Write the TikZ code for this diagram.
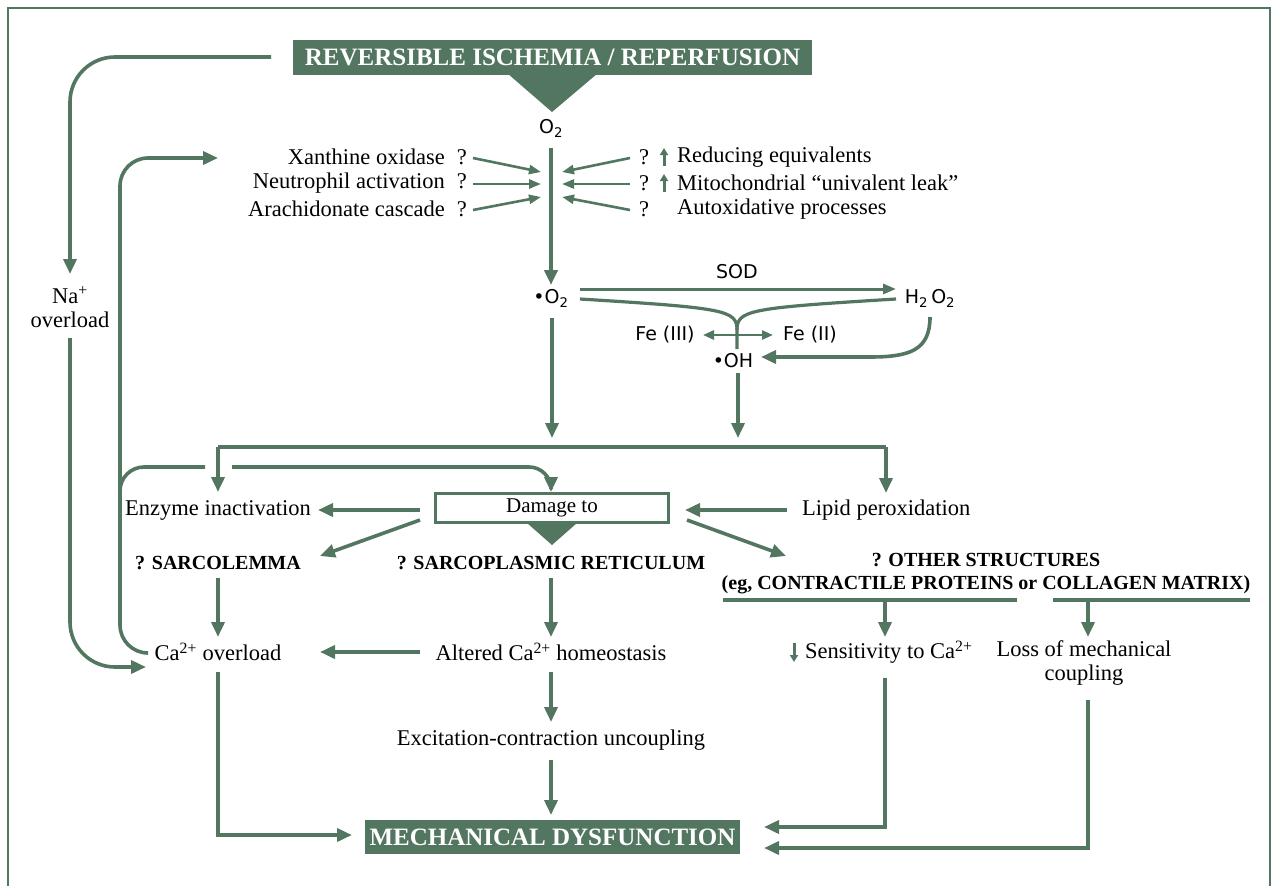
\documentclass[tikz,border=0pt]{standalone}
\usepackage{fontspec}
\setmainfont{Liberation Serif}
\newfontfamily\chemf{DejaVu Sans}
\usetikzlibrary{arrows.meta}
\definecolor{gr}{RGB}{82,118,96}
\begin{document}
\begin{tikzpicture}[x=1pt,y=-1pt,
  every node/.style={inner sep=0pt, font=\fontsize{22.5}{24}\selectfont},
  tip/.style={-{Triangle[length=15pt,width=13pt]}},
  conn/.style={draw=gr, line width=3.6pt, tip},
  plain/.style={draw=gr, line width=3.6pt},
  thinar/.style={draw=gr, line width=2.6pt, -{Triangle[length=12pt,width=9pt]}},
  bold/.style={font=\fontsize{20}{23}\selectfont\bfseries},
  chem/.style={font=\fontsize{19}{22}\selectfont\chemf},
  banner/.style={fill=gr, text=white, font=\fontsize{25}{28}\selectfont\bfseries}
]
\useasboundingbox (0,0) rectangle (1278,886);
\draw[gr, line width=2pt] (8,886) -- (8,8) -- (1270,8) -- (1270,886);

% title
\node[banner, minimum width=519pt, minimum height=35pt] (title) at (552.5,57.5) {REVERSIBLE ISCHEMIA / REPERFUSION};
\fill[gr] (title.south) ++(-43,0) -- ++(86,0) -- (552,112) -- cycle;
\node[chem] (o2) at (551,128) {O\textsubscript{2}};

% sources
\node[anchor=east] (xo) at (467,157) {Xanthine oxidase\hspace{12pt}?};
\node[anchor=east] (na) at (467,183) {Neutrophil activation\hspace{12pt}?};
\node[anchor=east] (ac) at (467,209) {Arachidonate cascade\hspace{12pt}?};
\node (q1) at (644,157) {?};
\node (q2) at (644,183) {?};
\node (q3) at (644,209) {?};
\node[anchor=west] (re) at (677,157) {Reducing equivalents};
\node[anchor=west] (ml) at (677,183) {Mitochondrial “univalent leak”};
\node[anchor=west] (ap) at (677,209) {Autoxidative processes};
\draw[gr, line width=3pt, -{Triangle[length=7pt,width=8pt]}] (664,166) -- (664,148);
\draw[gr, line width=3pt, -{Triangle[length=7pt,width=8pt]}] (664,192) -- (664,174);

\coordinate (t1) at (541,172); \coordinate (t2) at (541,184); \coordinate (t3) at (541,197);
\coordinate (u1) at (562,172); \coordinate (u2) at (562,184); \coordinate (u3) at (562,197);
\draw[thinar] (473,158) -- (t1);
\draw[thinar] (473,184) -- (t2);
\draw[thinar] (473,210) -- (t3);
\draw[thinar] (630,158) -- (u1);
\draw[thinar] (630,184) -- (u2);
\draw[thinar] (630,210) -- (u3);

% superoxide chemistry
\node[chem] (so) at (551,298) {•O\textsubscript{2}};
\node[chem] (sod) at (737,272) {SOD};
\node[chem] (hp) at (930,298) {H\textsubscript{2}\,O\textsubscript{2}};
\node[chem] (fe3) at (665,335) {Fe (III)};
\node[chem] (fe2) at (810,335) {Fe (II)};
\node[chem] (oh) at (733,361) {•OH};
\coordinate (o2b) at (551,148);
\coordinate (sot) at (551,285);
\draw[conn, line width=4pt] (o2b) -- (sot);
\coordinate (sod1) at (580,289); \coordinate (sod2) at (896,289);
\draw[gr, line width=3pt, -{Triangle[length=13pt,width=10pt]}] (sod1) -- (sod2);
\coordinate (join) at (737,330);
\coordinate (jb) at (737,349);
\draw[gr, line width=3.2pt] (580,299) .. controls (725,308) and (737,310) .. (join);
\draw[gr, line width=3.2pt] (896,299) .. controls (749,308) and (737,310) .. (join) -- (jb);
\coordinate (fa) at (703,335); \coordinate (fb) at (773,335);
\draw[gr, line width=2.6pt, {Triangle[length=11pt,width=9pt]}-{Triangle[length=11pt,width=9pt]}] (fa) -- (fb);
\coordinate (hpb) at (930,317); \coordinate (ohe) at (761,357);
\draw[conn] (hpb) .. controls (930,350) and (910,357) .. (870,357) -- (ohe);
\coordinate (sob) at (552,318); \coordinate (ohb) at (738,373);
\draw[conn] (sob) -- (552,438);
\draw[conn] (ohb) -- (738,438);

% distribution
\node (ei) at (218,510) {Enzyme inactivation};
\node[draw=gr, line width=2.5pt, fill=white, minimum width=233pt, minimum height=29pt, font=\fontsize{21}{22}\selectfont] (dmg) at (552,508) {Damage to};
\fill[gr] (527,523) -- (577,523) -- (552,545) -- cycle;
\node[anchor=west] (lp) at (802,510) {Lipid peroxidation};
\draw[plain] (218,447) -- (886,447);
\draw[conn] (218,447) -- (218,492);
\draw[conn] (886,447) -- (886,493);

\node[bold] (sl) at (218,563) {? SARCOLEMMA};
\node[bold] (sr) at (551,563) {? SARCOPLASMIC RETICULUM};
\node[bold, align=center] (os) at (986,574) {? OTHER STRUCTURES\\(eg, CONTRACTILE PROTEINS or COLLAGEN MATRIX)};

\draw[conn] (420,510) -- (318,510);
\draw[conn] (420,520) -- (320,556);
\draw[conn] (787,510) -- (685,510);
\draw[conn] (687,520) -- (786,556);

\draw[plain] (723,600) -- (1017,600);
\draw[plain] (1053,600) -- (1250,600);

\node (ca) at (218,652) {Ca\textsuperscript{2+} overload};
\node (alt) at (551,652) {Altered Ca\textsuperscript{2+} homeostasis};
\node[anchor=west] (sens) at (805,652) {Sensitivity to Ca\textsuperscript{2+}};
\draw[gr, line width=3pt, -{Triangle[length=7pt,width=8pt]}] (794,643) -- (794,662);
\node[align=center] (loss) at (1084,663) {Loss of mechanical\\coupling};
\node (ecu) at (551,740) {Excitation-contraction uncoupling};

\draw[conn] (218,578) -- (218,637);
\draw[conn] (551,578) -- (551,637);
\draw[conn] (885,600) -- (885,637);
\draw[conn] (1088,600) -- (1088,637);
\draw[conn] (420,652) -- (320,652);
\draw[conn] (551,672) -- (551,722);
\draw[conn] (551,760) -- (551,815);

\node[banner, minimum width=375pt, minimum height=34pt] (md) at (552.5,837) {MECHANICAL DYSFUNCTION};
\draw[conn] (218,672) |- (352,835);
\draw[conn] (885,678) |- (764,827);
\draw[conn] (1088,700) |- (764,848);

% feedback loops
\node[align=center] (nao) at (70,307) {Na\textsuperscript{+}\\overload};
\draw[conn, rounded corners=45pt] (271,57) -- (70,57) -- (70,274);
\draw[conn, rounded corners=45pt] (70,338) -- (70,667) -- (146,667);
\draw[conn, rounded corners=28pt] (147,653) -- (120,653) -- (120,158) -- (218,158);
\draw[plain, rounded corners=24pt] (120,500) -- (120,467) -- (205,467);
\draw[conn, rounded corners=22pt] (232,467) -- (551,467) -- (551,492);
\end{tikzpicture}
\end{document}
